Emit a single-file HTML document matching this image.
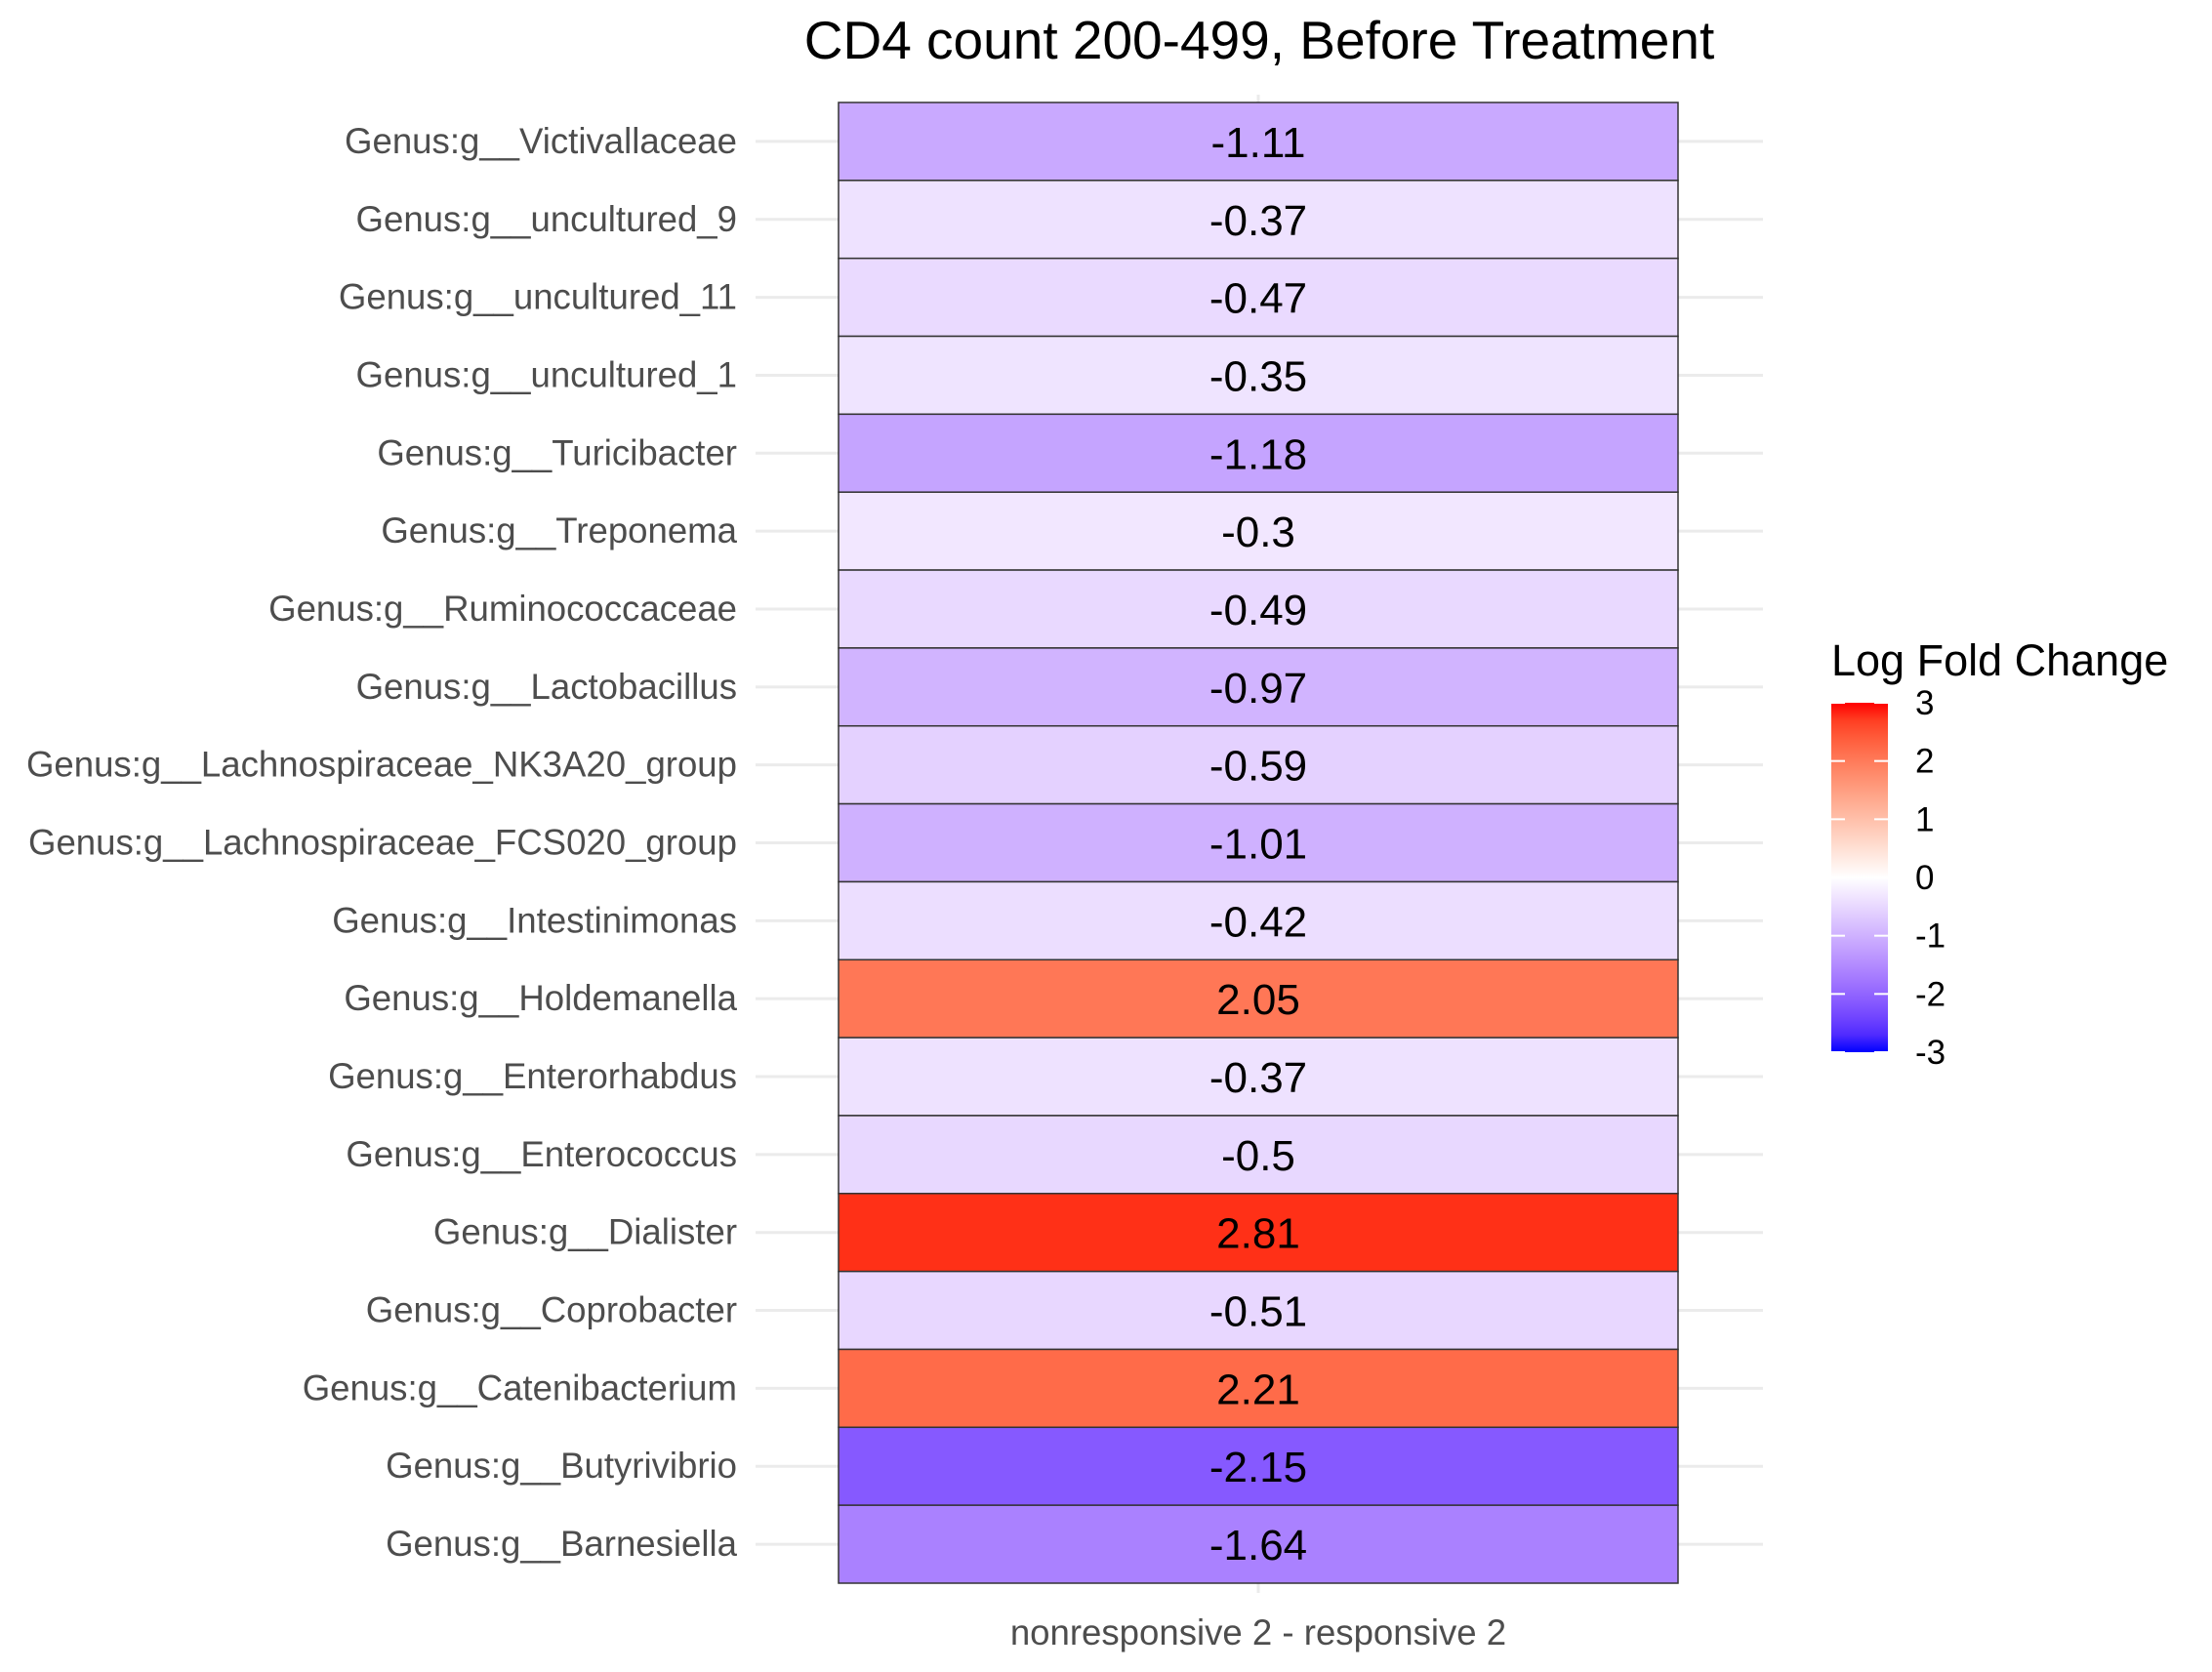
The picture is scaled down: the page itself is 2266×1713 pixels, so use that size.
<!DOCTYPE html>
<html><head><meta charset="utf-8"><style>
body{margin:0;background:#fff;}
svg text{font-family:"Liberation Sans",Arial,sans-serif;}
</style></head><body>
<svg id="chart" width="2266" height="1708" viewBox="0 0 2266 1708">
<text x="1290" y="60" font-size="55" text-anchor="middle" fill="#000">CD4 count 200-499, Before Treatment</text>
<g id="grid"></g>
<g id="tiles"></g>
<g id="ylabels"></g>
<text x="1289" y="1685" font-size="36.6" text-anchor="middle" fill="#4d4d4d">nonresponsive 2 - responsive 2</text>
<g id="legend">
<defs><linearGradient id="lg" x1="0" y1="1" x2="0" y2="0"></linearGradient></defs>
<text x="1876" y="692" font-size="45" fill="#000">Log Fold Change</text>
</g>
</svg>
<script>
const genera = ["Genus:g__Victivallaceae","Genus:g__uncultured_9","Genus:g__uncultured_11","Genus:g__uncultured_1","Genus:g__Turicibacter","Genus:g__Treponema","Genus:g__Ruminococcaceae","Genus:g__Lactobacillus","Genus:g__Lachnospiraceae_NK3A20_group","Genus:g__Lachnospiraceae_FCS020_group","Genus:g__Intestinimonas","Genus:g__Holdemanella","Genus:g__Enterorhabdus","Genus:g__Enterococcus","Genus:g__Dialister","Genus:g__Coprobacter","Genus:g__Catenibacterium","Genus:g__Butyrivibrio","Genus:g__Barnesiella"];
const values = [-1.11,-0.37,-0.47,-0.35,-1.18,-0.3,-0.49,-0.97,-0.59,-1.01,-0.42,2.05,-0.37,-0.5,2.81,-0.51,2.21,-2.15,-1.64];
const valueLabels = ["-1.11","-0.37","-0.47","-0.35","-1.18","-0.3","-0.49","-0.97","-0.59","-1.01","-0.42","2.05","-0.37","-0.5","2.81","-0.51","2.21","-2.15","-1.64"];
const legendTicks = [3,2,1,0,-1,-2,-3];
const colorLimits = [-3,3];

const NS="http://www.w3.org/2000/svg";
function mk(t,a,p){const e=document.createElementNS(NS,t);for(const k in a)e.setAttribute(k,a[k]);p.appendChild(e);return e;}
function s2l(c){c/=255;return c<=0.04045?c/12.92:Math.pow((c+0.055)/1.055,2.4);}
function l2s(c){c=c<=0.0031308?12.92*c:1.055*Math.pow(c,1/2.4)-0.055;return Math.max(0,Math.min(255,Math.round(c*255)));}
function toLab(rgb){const[r,g,b]=rgb.map(s2l);let X=(0.4124*r+0.3576*g+0.1805*b)/0.95047,Y=0.2126*r+0.7152*g+0.0722*b,Z=(0.0193*r+0.1192*g+0.9505*b)/1.08883;const f=t=>t>0.008856?Math.cbrt(t):7.787*t+16/116;return[116*f(Y)-16,500*(f(X)-f(Y)),200*(f(Y)-f(Z))];}
function fromLab(L){const fy=(L[0]+16)/116,fx=fy+L[1]/500,fz=fy-L[2]/200;const fi=t=>t*t*t>0.008856?t*t*t:(t-16/116)/7.787;const X=fi(fx)*0.95047,Y=fi(fy),Z=fi(fz)*1.08883;const r=3.2406*X-1.5372*Y-0.4986*Z,g=-0.9689*X+1.8758*Y+0.0415*Z,b=0.0557*X-0.2040*Y+1.0570*Z;return`rgb(${l2s(r)},${l2s(g)},${l2s(b)})`;}
const LB=toLab([0,0,255]),LW=toLab([255,255,255]),LR=toLab([255,0,0]);
function color(v){let t=v/colorLimits[1];t=Math.max(-1,Math.min(1,t));const e=t<0?LB:LR,a=Math.abs(t);return fromLab(LW.map((w,i)=>w+(e[i]-w)*a));}

const pTop=105,pBottom=1622,pLeft=859,pRight=1719;
const cx=(pLeft+pRight)/2;
const rowH=(pBottom-pTop)/genera.length;
const yC=i=>pTop+rowH*(i+0.5);
const grid=document.getElementById('grid'),tiles=document.getElementById('tiles'),yl=document.getElementById('ylabels');
const vl=mk('line',{x1:cx,x2:cx,y1:97,y2:1632,stroke:'#ebebeb','stroke-width':3},grid);


genera.forEach((g,i)=>{
 const y=yC(i);
 const gl=mk('line',{x1:774,x2:1806,y1:y,y2:y,stroke:'#ebebeb','stroke-width':3},grid);
 
 
 const r=mk('rect',{x:pLeft,y:pTop+rowH*i,width:pRight-pLeft,height:rowH,fill:color(values[i]),stroke:'#333','stroke-width':1.5},tiles);
 
 
 const t=mk('text',{x:cx,y:y+16,'font-size':44,'text-anchor':'middle',fill:'#000'},tiles);
 t.textContent=valueLabels[i];
 
 
 const l=mk('text',{x:755,y:y+12,'font-size':36.6,'text-anchor':'end',fill:'#4d4d4d'},yl);
 l.textContent=g;
 
 
});
const lgT=720,lgB=1078,lgL=1876,lgR=1934;
const lg=document.getElementById('lg');
for(let k=0;k<=20;k++){const v=colorLimits[0]+(colorLimits[1]-colorLimits[0])*k/20;mk('stop',{offset:(k/20),'stop-color':color(v)},lg);}
const leg=document.getElementById('legend');
const bar=mk('rect',{x:lgL,y:lgT,width:lgR-lgL,height:lgB-lgT,fill:'url(#lg)'},leg);


const ly=v=>lgB-(v-colorLimits[0])/(colorLimits[1]-colorLimits[0])*(lgB-lgT);
legendTicks.forEach(v=>{
 const y=ly(v);
 mk('line',{x1:lgL,x2:lgL+14,y1:y,y2:y,stroke:'#fff','stroke-width':2},leg);
 mk('line',{x1:lgR-14,x2:lgR,y1:y,y2:y,stroke:'#fff','stroke-width':2},leg);
 const t=mk('text',{x:1962,y:y+12,'font-size':35,fill:'#000'},leg);
 t.textContent=String(v);
 
 
});
</script>
</body></html>
